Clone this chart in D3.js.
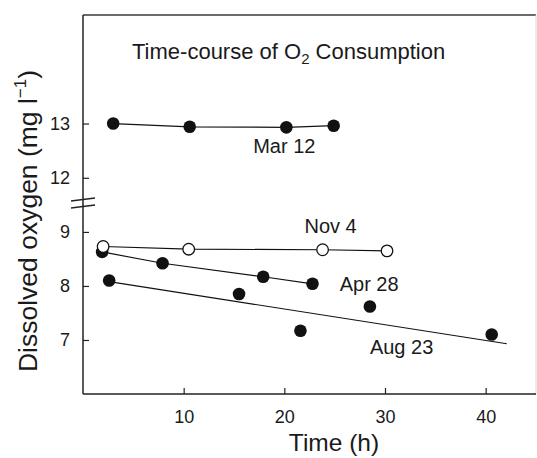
<!DOCTYPE html>
<html>
<head>
<meta charset="utf-8">
<script src="https://cdn.jsdelivr.net/npm/d3@7"></script>
<style>
  html, body { margin: 0; padding: 0; background: #fff; }
  svg { display: block; }
  text { font-family: "Liberation Sans", Arial, Helvetica, sans-serif; fill: #1a1a1a; }
</style>
</head>
<body>
<svg id="chart" width="537" height="458"></svg>
<script>
// ---- data ----
const xTicks = [10, 20, 30, 40];
const yTicks = [7, 8, 9, 12, 13];

const marTimes = [3.0, 10.6, 20.2, 24.9];
const marO2    = [13.0, 12.94, 12.93, 12.96];

const novTimes = [2.0, 10.5, 23.8, 30.2];
const novO2    = [8.73, 8.68, 8.67, 8.65];

const aprTimes = [1.9, 7.9, 17.9, 22.8];
const aprO2    = [8.63, 8.42, 8.17, 8.04];

const augTimes = [2.6, 15.5, 21.6, 28.5, 40.6];
const augO2    = [8.10, 7.85, 7.17, 7.62, 7.10];
const augFitTimes = [2.6, 42.1];
const augFitO2    = [8.08, 6.93];

const seriesLabels = ["Mar 12", "Nov 4", "Apr 28", "Aug 23"];
const labelPos = [[16.9, 12.46], [22.0, 8.98], [25.5, 7.91], [28.5, 6.74]]; // [time, O2] anchor of label (start)

// ---- layout ----
const svg = d3.select("#chart");
const mL = 83, mR = 536, mT = 15, mB = 394;

const x = d3.scaleLinear().domain([0, 45]).range([mL, mR]);
// broken axis: 6–9.6 lower part, 11.6–15 upper part
const y = d3.scaleLinear().domain([6, 9.6, 11.6, 15]).range([mB, 199.5, 199.5, mT]);

// frame
svg.append("line").attr("x1", mL).attr("x2", mR).attr("y1", mT).attr("y2", mT)
  .attr("stroke", "#3a3a3a").attr("stroke-width", 1.5);
svg.append("line").attr("x1", mR).attr("x2", mR).attr("y1", mT).attr("y2", mB)
  .attr("stroke", "#d8d8d8").attr("stroke-width", 1);

// axes (ticks inward)
const xAxis = d3.axisBottom(x).tickValues(xTicks).tickSize(-6).tickPadding(16).tickFormat(d3.format("d"));
const gx = svg.append("g").attr("transform", `translate(0,${mB})`).call(xAxis);
gx.select(".domain").attr("d", `M${mL},0H${mR}`).attr("stroke", "#222").attr("stroke-width", 1.5);
gx.selectAll(".tick line").attr("stroke", "#222").attr("stroke-width", 1.2);
gx.selectAll(".tick text").attr("font-size", 18).attr("fill", "#1a1a1a")
  .style("font-family", '"Liberation Sans", Arial, sans-serif');

const yAxis = d3.axisLeft(y).tickValues(yTicks).tickSize(-6).tickPadding(13).tickFormat(d3.format("d"));
const gy = svg.append("g").attr("transform", `translate(${mL},0)`).call(yAxis);
gy.select(".domain").attr("d", `M0,${mT}V${mB}`).attr("stroke", "#222").attr("stroke-width", 1.5);
gy.selectAll(".tick line").attr("stroke", "#222").attr("stroke-width", 1.2);
gy.selectAll(".tick text").attr("font-size", 18).attr("fill", "#1a1a1a")
  .style("font-family", '"Liberation Sans", Arial, sans-serif');

// axis break marks
const yb = y(9.6);
[0, 7].forEach(off => {
  svg.append("line")
    .attr("x1", mL - 12).attr("y1", yb + off + 1.5)
    .attr("x2", mL + 12).attr("y2", yb + off - 1.5)
    .attr("stroke", "#222").attr("stroke-width", 1.4);
});

// lines
const line = d3.line().x(d => x(d[0])).y(d => y(d[1]));
const zip = (a, b) => a.map((v, i) => [v, b[i]]);
const lineStyle = sel => sel.attr("fill", "none").attr("stroke", "#111").attr("stroke-width", 1.2);

svg.append("path").datum(zip(marTimes, marO2)).attr("d", line).call(lineStyle);
svg.append("path").datum(zip(novTimes, novO2)).attr("d", line).call(lineStyle);
svg.append("path").datum(zip(aprTimes, aprO2)).attr("d", line).call(lineStyle);
svg.append("path").datum(zip(augFitTimes, augFitO2)).attr("d", line).call(lineStyle);

// points
function filled(ts, vs) {
  svg.append("g").selectAll("circle").data(zip(ts, vs)).join("circle")
    .attr("cx", d => x(d[0])).attr("cy", d => y(d[1])).attr("r", 6.3).attr("fill", "#111");
}
filled(marTimes, marO2);
filled(aprTimes, aprO2);
filled(augTimes, augO2);
svg.append("g").selectAll("circle").data(zip(novTimes, novO2)).join("circle")
  .attr("cx", d => x(d[0])).attr("cy", d => y(d[1])).attr("r", 5.8)
  .attr("fill", "#fff").attr("stroke", "#111").attr("stroke-width", 1.3);

// series labels
svg.append("g").selectAll("text").data(seriesLabels).join("text")
  .attr("x", (d, i) => x(labelPos[i][0])).attr("y", (d, i) => y(labelPos[i][1]))
  .attr("font-size", 20).text(d => d);

// title inside plot
const title = svg.append("text").attr("x", 132).attr("y", 59).attr("font-size", 22);
title.append("tspan").text("Time-course of O");
title.append("tspan").attr("font-size", 15).attr("dy", 5).text("2");
title.append("tspan").attr("dy", -5).text(" Consumption");

// axis titles
svg.append("text").attr("x", 334).attr("y", 451).attr("text-anchor", "middle")
  .attr("font-size", 24.5).text("Time (h)");

const yt = svg.append("text").attr("transform", "translate(37,221) rotate(-90)")
  .attr("text-anchor", "middle").attr("font-size", 26.5);
yt.append("tspan").text("Dissolved oxygen (mg l");
yt.append("tspan").attr("font-size", 17).attr("dy", -11).text("\u22121");
yt.append("tspan").attr("dy", 11).text(")");
</script>
</body>
</html>
